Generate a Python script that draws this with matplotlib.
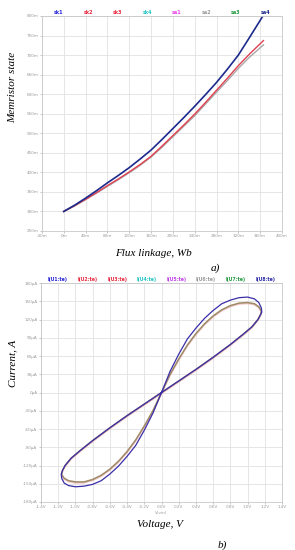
import matplotlib
matplotlib.use('Agg')
import matplotlib.pyplot as plt

# a) memristor state vs flux linkage (values in milli-units)
flux_blue = [0, 20, 40, 60, 80, 100, 120, 140, 160, 180, 200, 220, 240, 260, 280, 300, 320, 340, 365]
state_blue = [300, 316, 334, 353, 373, 392, 412, 434, 457, 484, 512, 540, 569, 599, 630, 664, 700, 744, 800]

flux_red = [0, 20, 40, 60, 80, 100, 120, 140, 160, 180, 200, 220, 240, 260, 280, 300, 320, 340, 366]
state_red = [300, 315, 331, 348, 366, 383, 401, 420, 441, 467, 494, 521, 549, 579, 610, 641, 673, 702, 737]
state_gray = [300, 314, 330, 347, 364, 381, 399, 418, 439, 464, 491, 518, 545, 575, 605, 635, 666, 694, 726]

top_labels = ['sk1', 'sk2', 'sk3', 'sk4', 'sa1', 'sa2', 'sa3', 'sa4']
top_colors = ['#2424d8', '#e8283c', '#e8283c', '#22c4c4', '#e840e8', '#9a9a9a', '#1f9a3c', '#1c2a8c']

# b) current vs voltage, pinched hysteresis loop (V, µA)
v_outer = [0, 0.1, 0.2, 0.3, 0.4, 0.5, 0.6, 0.7, 0.8, 0.9, 1.0, 1.08, 1.13, 1.16, 1.165,
           1.15, 1.12, 1.05, 0.95, 0.8, 0.6, 0.4, 0.2, 0,
           -0.2, -0.4, -0.6, -0.8, -0.95, -1.05, -1.12, -1.15, -1.165,
           -1.16, -1.13, -1.08, -1.0, -0.9, -0.8, -0.7, -0.6, -0.5, -0.4, -0.3, -0.2, -0.1, 0]
i_outer = [0, 35, 63, 88, 106, 122, 135, 146, 152, 156, 157, 154, 148, 139, 132,
           128, 120, 108, 96, 79, 58, 38, 19, 0,
           -19, -38, -58, -79, -96, -108, -120, -128, -134,
           -141, -149, -153, -155, -154, -151, -145, -134, -121, -105, -87, -62, -34, 0]

v_inner = [0, 0.1, 0.2, 0.3, 0.4, 0.5, 0.6, 0.7, 0.8, 0.9, 1.0, 1.08, 1.13, 1.16,
           1.15, 1.12, 1.05, 0.95, 0.8, 0.6, 0.4, 0.2, 0,
           -0.2, -0.4, -0.6, -0.8, -0.95, -1.05, -1.12, -1.15,
           -1.16, -1.13, -1.08, -1.0, -0.9, -0.8, -0.7, -0.6, -0.5, -0.4, -0.3, -0.2, -0.1, 0]
i_inner = [0, 30, 55, 78, 97, 113, 126, 136, 143, 147, 148, 146, 141, 134,
           128, 120, 108, 96, 79, 58, 38, 19, 0,
           -19, -38, -58, -79, -96, -108, -120, -128,
           -135, -141, -145, -147, -147, -143, -136, -126, -113, -97, -78, -55, -30, 0]

bottom_labels = ['I(U1:te)', 'I(U2:te)', 'I(U3:te)', 'I(U4:te)', 'I(U5:te)', 'I(U6:te)', 'I(U7:te)', 'I(U8:te)']
bottom_colors = ['#2424d8', '#e8283c', '#e8283c', '#22c4c4', '#c040e8', '#9a9a9a', '#1f9a3c', '#2a2aa8']

tick_color = '#9a9a9a'
grid_color = '#e2e2e2'
serif = ['Liberation Serif', 'DejaVu Serif']

fig = plt.figure(figsize=(2.95, 5.5), dpi=100)
ax1 = fig.add_axes([0.142, 0.58, 0.814, 0.391])
ax2 = fig.add_axes([0.139, 0.0873, 0.817, 0.398])


def style(ax):
    ax.grid(True, color=grid_color, linewidth=0.6)
    ax.set_axisbelow(True)
    for s in ax.spines.values():
        s.set_color('#c8c8c8')
        s.set_linewidth(0.6)
    ax.tick_params(labelsize=3, colors=tick_color, length=1.5, width=0.4, pad=1)


# ---- a) ----
style(ax1)
ax1.plot(flux_red, state_gray, color='#a8a8a8', linewidth=1.0)
ax1.plot(flux_red, state_red, color='#e04050', linewidth=1.0)
ax1.plot(flux_blue, state_blue, color='#1c2a8c', linewidth=1.2)
ax1.set_xlim(-40, 400)
ax1.set_ylim(250, 800)
xt = list(range(-40, 401, 40))
yt = list(range(250, 801, 50))
ax1.set_xticks(xt)
ax1.set_xticklabels([f"{v}m" for v in xt])
ax1.set_yticks(yt)
ax1.set_yticklabels([f"{v}m" for v in yt])
for k, (lab, col) in enumerate(zip(top_labels, top_colors)):
    ax1.text(0.07 + k * 0.123, 1.003, lab, transform=ax1.transAxes, color=col,
             fontsize=3.5, fontweight='bold', ha='center', va='bottom')

fig.text(0.042, 0.842, 'Memristor state', rotation=90, ha='center', va='center',
         fontsize=8, style='italic', family=serif)
fig.text(0.52, 0.539, 'Flux linkage, Wb', ha='center', va='center',
         fontsize=8, style='italic', family=serif)
fig.text(0.73, 0.512, 'a)', ha='center', va='center',
         fontsize=8, style='italic', family=serif)

# ---- b) ----
style(ax2)
ax2.plot(v_inner, [i - 1.5 for i in i_inner], color='#f0a0a8', linewidth=1.2, alpha=0.6)
ax2.plot(v_inner, i_inner, color='#9c8a66', linewidth=1.1)
ax2.plot(v_outer, i_outer, color='#3a2ea8', linewidth=0.9)
ax2.set_xlim(-1.4, 1.4)
ax2.set_ylim(-180, 180)
vt = [-1.4, -1.2, -1.0, -0.8, -0.6, -0.4, -0.2, 0.0, 0.2, 0.4, 0.6, 0.8, 1.0, 1.2, 1.4]
it = list(range(-180, 181, 30))
ax2.set_xticks(vt)
ax2.set_xticklabels([f"{v:.1f}V" for v in vt])
ax2.set_yticks(it)
ax2.set_yticklabels([f"{v}µA" for v in it])
ax2.set_xlabel('V(vin)', fontsize=3, color=tick_color, labelpad=1)
for k, (lab, col) in enumerate(zip(bottom_labels, bottom_colors)):
    ax2.text(0.07 + k * 0.123, 1.004, lab, transform=ax2.transAxes, color=col,
             fontsize=3.3, fontweight='bold', ha='center', va='bottom')

fig.text(0.042, 0.34, 'Current, A', rotation=90, ha='center', va='center',
         fontsize=8, style='italic', family=serif)
fig.text(0.542, 0.046, 'Voltage, V', ha='center', va='center',
         fontsize=8, style='italic', family=serif)
fig.text(0.755, 0.008, 'b)', ha='center', va='center',
         fontsize=8, style='italic', family=serif)

fig.savefig('out.png', dpi=100)
